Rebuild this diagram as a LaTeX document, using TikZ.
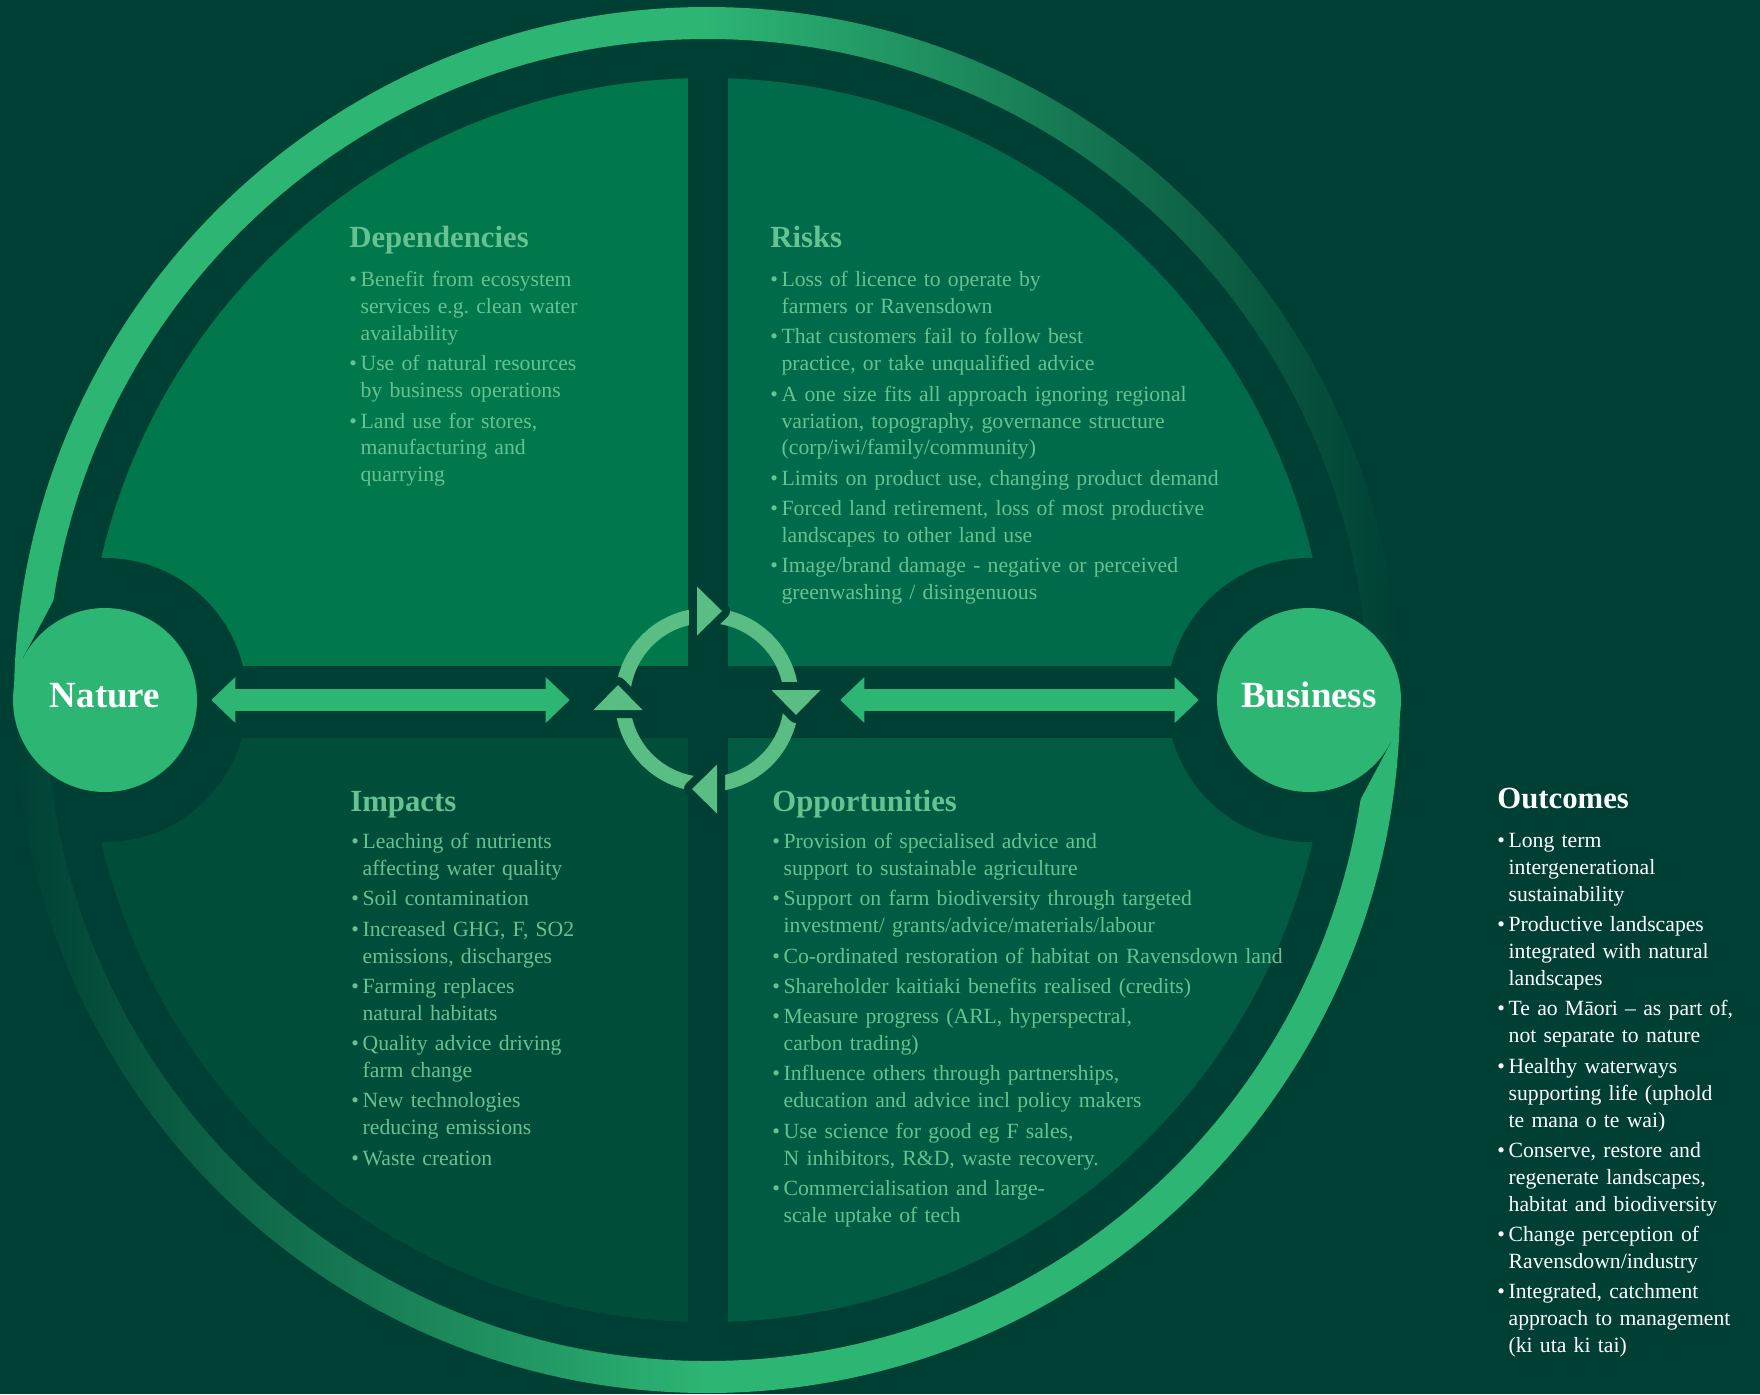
\documentclass[tikz,border=0pt]{standalone}
\usepackage{fontspec}
\setmainfont{Liberation Serif}
\usetikzlibrary{arrows.meta, calc, positioning}

\definecolor{ecoBg}{HTML}{004034}
\definecolor{ecoTL}{HTML}{00784B}
\definecolor{ecoTR}{HTML}{006B4B}
\definecolor{ecoBL}{HTML}{004E3A}
\definecolor{ecoBR}{HTML}{005B42}
\definecolor{ecoRing}{HTML}{2DB574}
\definecolor{ecoCycle}{HTML}{5ABE84}
\definecolor{ecoText}{HTML}{66C290}

% one bullet point with a hanging indent
\newcommand{\bitem}[1]{\par\noindent\hangindent=0.52em\hangafter=1%
  \makebox[0.52em][l]{\strut\textbullet}#1\par}

\tikzset{
  hubcircle/.style={circle, fill=ecoRing, minimum size=36.8mm, inner sep=0pt,
    text=white, text depth=2mm, font=\fontsize{21}{25}\selectfont\bfseries},
  headtext/.style={anchor=base west, inner sep=0pt, text=ecoText,
    font=\fontsize{17.5}{21}\selectfont\bfseries},
  listtext/.style={anchor=north west, inner sep=0pt, text width=#1, text=ecoText,
    font=\fontsize{12.35}{15.33}\selectfont,
    execute at begin node={\frenchspacing\setlength{\parskip}{1.9pt}}},
  listtext/.default=6cm,
  dblarrow/.style={line width=4.4mm, ecoRing,
    {Triangle[length=4.8mm, width=9.2mm, line width=0pt]}-{Triangle[length=4.8mm, width=9.2mm, line width=0pt]}},
  cyclehead/.style={fill=ecoCycle,
    preaction={draw=ecoBg, line width=3.2mm, line join=round}}
}

\begin{document}
\begin{tikzpicture}[x=0.2mm, y=-0.2mm]
  % background, also fixes the page
  \path[use as bounding box, fill=ecoBg] (0,0) rectangle (1760,1394);
  \coordinate (c) at (707,700);
  \coordinate (natc) at (105,700);
  \coordinate (busc) at (1309,700);

  % four quadrants cut from the inner disc
  \begin{scope}
    \clip (c) circle[radius=622];
    \fill[ecoTL] (0,0) rectangle (688,666);
    \fill[ecoTR] (728,0) rectangle (1420,666);
    \fill[ecoBL] (0,738) rectangle (688,1420);
    \fill[ecoBR] (728,738) rectangle (1420,1420);
  \end{scope}

  % dark halos round the end circles
  \fill[ecoBg] (natc) circle[radius=142] (busc) circle[radius=142];

  % outer ring, solid on one side and fading out on the other
  \fill[ecoRing] ($(c)+(180:693)$) arc[start angle=180, end angle=270, radius=693]
    -- ($(c)+(270:661)$) arc[start angle=270, end angle=180, radius=661] -- cycle;
  \shade[left color=ecoRing, right color=ecoBg] ($(c)+(270:693)$) arc[start angle=270, end angle=360, radius=693]
    -- ($(c)+(0:661)$) arc[start angle=360, end angle=270, radius=661] -- cycle;
  \fill[ecoRing] ($(c)+(0:693)$) arc[start angle=0, end angle=90, radius=693]
    -- ($(c)+(90:661)$) arc[start angle=90, end angle=0, radius=661] -- cycle;
  \shade[left color=ecoBg, right color=ecoRing] ($(c)+(90:693)$) arc[start angle=90, end angle=180, radius=693]
    -- ($(c)+(180:661)$) arc[start angle=180, end angle=90, radius=661] -- cycle;

  % cut the ring ends where they run into the circles
  \fill[ecoBg] (23,658) -- (56,596) -- (140,590) -- (natc) -- cycle;
  \fill[ecoBg] (1391,742) -- (1358,804) -- (1274,810) -- (busc) -- cycle;

  % cycle in the middle
  \fill[ecoCycle, even odd rule] (c) circle[radius=92] circle[radius=77];
  \foreach \a in {0,90,180,270}
    \fill[cyclehead] ($(c)+(\a:89)+(\a+90:-10)+(\a:24.5)$)
      -- ($(c)+(\a:89)+(\a+90:-10)+(\a:-24.5)$)
      -- ($(c)+(\a:89)+(\a+90:15)$) -- cycle;

  \node[circle, minimum size=36.8mm, inner sep=0pt] (hub) at (c) {};
  \node[hubcircle] (nature) at (natc) {Nature};
  \node[hubcircle] (business) at (busc) {Business};

  \draw[dblarrow, shorten <=2.8mm, shorten >=9mm] (nature) -- (hub);
  \draw[dblarrow, shorten <=8.2mm, shorten >=3.6mm] (hub) -- (business);

  % quadrant texts
  \node[headtext] (dephead) at (349,247) {Dependencies};
  \node[listtext] (deplist) at (349,256) {%
    \bitem{Benefit from ecosystem\newline services e.g. clean water\newline availability}
    \bitem{Use of natural resources\newline by business operations}
    \bitem{Land use for stores,\newline manufacturing and\newline quarrying}};

  \node[headtext] (riskhead) at (770,247) {Risks};
  \node[listtext=12cm] (risklist) at (770,256) {%
    \bitem{Loss of licence to operate by\newline farmers or Ravensdown}
    \bitem{That customers fail to follow best\newline practice, or take unqualified advice}
    \bitem{A one size fits all approach ignoring regional\newline variation, topography, governance structure\newline (corp/iwi/family/community)}
    \bitem{Limits on product use, changing product demand}
    \bitem{Forced land retirement, loss of most productive\newline landscapes to other land use}
    \bitem{Image/brand damage - negative or perceived\newline greenwashing / disingenuous}};

  \node[headtext] (imphead) at (350,811) {Impacts};
  \node[listtext] (implist) at (351,818) {%
    \bitem{Leaching of nutrients\newline affecting water quality}
    \bitem{Soil contamination}
    \bitem{Increased GHG, F, SO2\newline emissions, discharges}
    \bitem{Farming replaces\newline natural habitats}
    \bitem{Quality advice driving\newline farm change}
    \bitem{New technologies\newline reducing emissions}
    \bitem{Waste creation}};

  \node[headtext] (opphead) at (772,811) {Opportunities};
  \node[listtext=12cm] (opplist) at (772,818) {%
    \bitem{Provision of specialised advice and\newline support to sustainable agriculture}
    \bitem{Support on farm biodiversity through targeted\newline investment/ grants/advice/materials/labour}
    \bitem{Co-ordinated restoration of habitat on Ravensdown land}
    \bitem{Shareholder kaitiaki benefits realised (credits)}
    \bitem{Measure progress (ARL, hyperspectral,\newline carbon trading)}
    \bitem{Influence others through partnerships,\newline education and advice incl policy makers}
    \bitem{Use science for good eg F sales,\newline N inhibitors, R\&D, waste recovery.}
    \bitem{Commercialisation and large-\newline scale uptake of tech}};

  % outcomes beside the circle
  \node[headtext, text=white] (outhead) at (1497,808) {Outcomes};
  \node[listtext=5.2cm, text=white] (outlist) at (1497,817) {%
    \bitem{Long term\newline intergenerational\newline sustainability}
    \bitem{Productive landscapes\newline integrated with natural\newline landscapes}
    \bitem{Te ao Māori – as part of,\newline not separate to nature}
    \bitem{Healthy waterways\newline supporting life (uphold\newline te mana o te wai)}
    \bitem{Conserve, restore and\newline regenerate landscapes,\newline habitat and biodiversity}
    \bitem{Change perception of\newline Ravensdown/industry}
    \bitem{Integrated, catchment\newline approach to management\newline (ki uta ki tai)}};
\end{tikzpicture}
\end{document}
